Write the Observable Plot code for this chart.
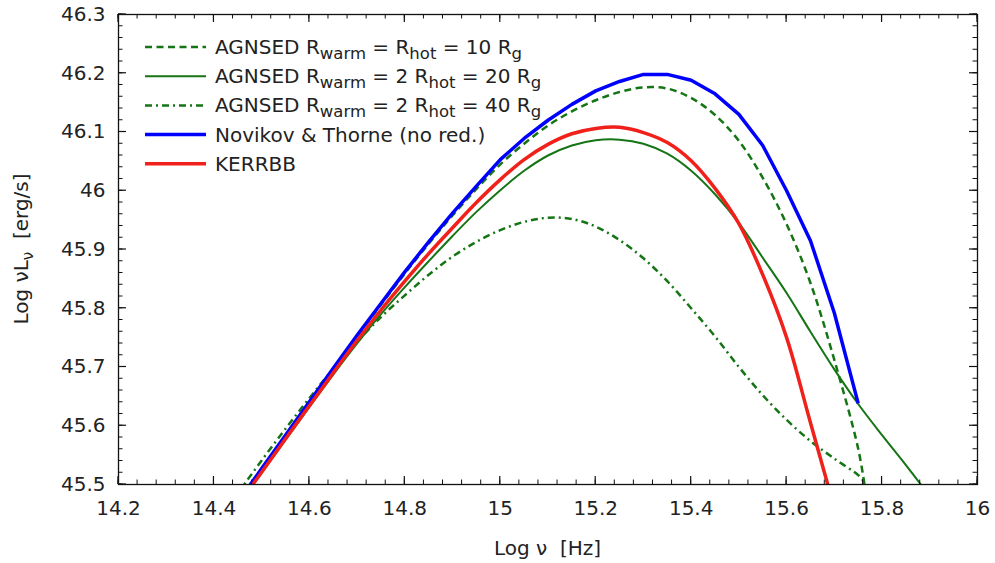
<!DOCTYPE html>
<html><head><meta charset="utf-8">
<script src="https://cdn.jsdelivr.net/npm/d3@7"></script>
<script src="https://cdn.jsdelivr.net/npm/@observablehq/plot@0.6"></script>
<style>
body{margin:0;background:#fff}
svg{font-family:"DejaVu Sans",sans-serif}
</style>
</head><body><div id="chart"></div>
<script>
// ---- data (log nu [Hz], log nuL_nu [erg/s]) ----
const nuNT = [14.45,14.50,14.55,14.60,14.65,14.70,14.75,14.80,14.85,14.90,14.95,15.00,15.05,15.10,15.15,15.20,15.25,15.30,15.35,15.40,15.45,15.50,15.55,15.60,15.65,15.70,15.75];
const lNT  = [45.470,45.527,45.584,45.641,45.698,45.754,45.808,45.862,45.913,45.962,46.008,46.053,46.089,46.120,46.147,46.170,46.186,46.198,46.198,46.188,46.165,46.130,46.077,46.000,45.915,45.792,45.638];

const nuK = [14.45,14.50,14.55,14.60,14.65,14.70,14.75,14.80,14.85,14.90,14.95,15.00,15.05,15.10,15.15,15.20,15.25,15.30,15.35,15.40,15.45,15.50,15.55,15.60,15.65,15.70];
const lK  = [45.465,45.521,45.578,45.634,45.690,45.745,45.797,45.846,45.893,45.937,45.980,46.019,46.053,46.079,46.097,46.106,46.108,46.099,46.082,46.051,46.004,45.944,45.857,45.750,45.605,45.460];

const nuG10 = [14.45,14.50,14.55,14.60,14.65,14.70,14.75,14.80,14.85,14.90,14.95,15.00,15.05,15.10,15.15,15.20,15.25,15.30,15.35,15.40,15.45,15.50,15.55,15.60,15.65,15.70,15.75,15.765];
const lG10  = [45.468,45.525,45.582,45.639,45.696,45.752,45.806,45.859,45.910,45.958,46.003,46.045,46.080,46.111,46.135,46.154,46.168,46.176,46.174,46.158,46.129,46.085,46.022,45.943,45.843,45.712,45.561,45.490];

const nuG20 = [14.45,14.50,14.55,14.60,14.65,14.70,14.75,14.80,14.85,14.90,14.95,15.00,15.05,15.10,15.15,15.20,15.25,15.30,15.35,15.40,15.45,15.50,15.55,15.60,15.65,15.70,15.75,15.80,15.85,15.90];
const lG20  = [45.465,45.520,45.576,45.632,45.687,45.740,45.790,45.836,45.880,45.923,45.964,46.001,46.034,46.060,46.077,46.086,46.087,46.080,46.063,46.034,45.994,45.945,45.886,45.826,45.760,45.696,45.637,45.584,45.533,45.480];

const nuG40 = [14.45,14.50,14.55,14.60,14.65,14.70,14.75,14.80,14.85,14.90,14.95,15.00,15.05,15.10,15.15,15.20,15.25,15.30,15.35,15.40,15.45,15.50,15.55,15.60,15.65,15.70,15.75,15.76];
const lG40  = [45.485,45.541,45.595,45.647,45.697,45.743,45.785,45.822,45.857,45.888,45.913,45.933,45.947,45.954,45.952,45.939,45.916,45.885,45.846,45.800,45.752,45.700,45.652,45.610,45.574,45.544,45.516,45.507];

const xTicks = [14.2,14.4,14.6,14.8,15,15.2,15.4,15.6,15.8,16];
const yTicks = [45.5,45.6,45.7,45.8,45.9,46,46.1,46.2,46.3];

const legendLabels = [
  [["AGNSED R"],["warm",1],[" = R"],["hot",1],[" = 10 R"],["g",1]],
  [["AGNSED R"],["warm",1],[" = 2 R"],["hot",1],[" = 20 R"],["g",1]],
  [["AGNSED R"],["warm",1],[" = 2 R"],["hot",1],[" = 40 R"],["g",1]],
  [["Novikov & Thorne (no red.)"]],
  [["KERRBB"]]
];
const xTitle = "Log \u03bd  [Hz]";

// ---- styles ----
const GREEN = "#157515", BLUE = "#0000ff", RED = "#f0201a";
const styles = [
  {stroke: GREEN, strokeWidth: 2.5, dash: "7,4.5", cap: "butt", curve: "catmull-rom"},
  {stroke: GREEN, strokeWidth: 2, dash: null, cap: "round", curve: "catmull-rom"},
  {stroke: GREEN, strokeWidth: 2.5, dash: "7,4,2,4", cap: "butt", curve: "catmull-rom"},
  {stroke: BLUE, strokeWidth: 3.5, dash: null, cap: "butt", curve: "linear"},
  {stroke: RED, strokeWidth: 3.5, dash: null, cap: "butt", curve: "catmull-rom"}
];
const series = [[nuG10,lG10],[nuG20,lG20],[nuG40,lG40],[nuNT,lNT],[nuK,lK]]
  .map(([n,l]) => n.map((v,i) => ({nu: v, L: l[i]})));

const W = 995, H = 563, mt = 14, mr = 18, mb = 79, ml = 118;
const xMinor = d3.range(0, 46).map(i => 14.2 + i * 0.04);
const yMinor = d3.range(0, 41).map(i => 45.5 + i * 0.02);
const fmt = d => String(Math.round(d * 10) / 10);

const lineMarks = series.map((data, i) => Plot.line(data, {
  x: "nu", y: "L", stroke: styles[i].stroke, strokeWidth: styles[i].strokeWidth,
  strokeDasharray: styles[i].dash, strokeLinecap: styles[i].cap, curve: styles[i].curve, clip: true
}));

const plot = Plot.plot({
  width: W, height: H, marginTop: mt, marginRight: mr, marginBottom: mb, marginLeft: ml,
  x: {domain: [14.2, 16]},
  y: {domain: [45.5, 46.3]},
  style: {fontFamily: "DejaVu Sans, sans-serif", fontSize: "20px", background: "white", color: "#222", overflow: "visible"},
  marks: [
    ...lineMarks,
    Plot.axisX(xTicks, {tickSize: 0, tickPadding: 16, fontSize: 20, tickFormat: fmt, label: null, fill: "#222"}),
    Plot.axisY(yTicks, {tickSize: 0, tickPadding: 13, fontSize: 20, tickFormat: fmt, label: null, fill: "#222"}),
    Plot.frame({stroke: "#111", strokeWidth: 1.3})
  ]
});
document.getElementById("chart").appendChild(plot);

const svg = d3.select(plot);
const xs = plot.scale("x"), ys = plot.scale("y");
const [x0, x1] = [xs.apply(14.2), xs.apply(16)];
const [yB, yT] = [ys.apply(45.5), ys.apply(46.3)];

// ---- inward ticks on all four sides ----
const tg = svg.append("g").attr("stroke", "#111");
function xt(v, len, w) {
  const px = xs.apply(v);
  tg.append("line").attr("x1", px).attr("x2", px).attr("y1", yB).attr("y2", yB - len).attr("stroke-width", w);
  tg.append("line").attr("x1", px).attr("x2", px).attr("y1", yT).attr("y2", yT + len).attr("stroke-width", w);
}
function yt_(v, len, w) {
  const py = ys.apply(v);
  tg.append("line").attr("x1", x0).attr("x2", x0 + len).attr("y1", py).attr("y2", py).attr("stroke-width", w);
  tg.append("line").attr("x1", x1).attr("x2", x1 - len).attr("y1", py).attr("y2", py).attr("stroke-width", w);
}
xMinor.forEach(v => xt(v, 4.5, 1));
xTicks.forEach(v => xt(v, 8, 1.2));
yMinor.forEach(v => yt_(v, 4.5, 1));
yTicks.forEach(v => yt_(v, 8, 1.2));

// ---- legend ----
const lg = svg.append("g").attr("class", "legend");
legendLabels.forEach((parts, i) => {
  const yc = 47 + i * 29.2;
  const s = styles[i];
  lg.append("line").attr("x1", 145).attr("x2", 206).attr("y1", yc).attr("y2", yc)
    .attr("stroke", s.stroke).attr("stroke-width", s.strokeWidth)
    .attr("stroke-dasharray", s.dash).attr("stroke-linecap", "butt");
  const t = lg.append("text").attr("x", 215).attr("y", yc + 7).attr("font-size", 20)
    .attr("text-anchor", "start").attr("fill", "#222").style("white-space", "pre");
  let sub = false;
  parts.forEach(([txt, isSub]) => {
    const ts = t.append("tspan").text(txt);
    if (isSub && !sub) { ts.attr("dy", 5).attr("font-size", 16.5); sub = true; }
    else if (isSub) { ts.attr("font-size", 16.5); }
    else if (sub) { ts.attr("dy", -5); sub = false; }
  });
});

// ---- axis titles ----
svg.append("text").attr("x", (x0 + x1) / 2).attr("y", 555).attr("text-anchor", "middle")
  .attr("font-size", 20).attr("fill", "#222").style("white-space", "pre").text(xTitle);

const yt = svg.append("text").attr("transform", `translate(28,${(yB + yT) / 2}) rotate(-90)`)
  .attr("text-anchor", "middle").attr("font-size", 20).attr("fill", "#222").style("white-space", "pre");
yt.append("tspan").text("Log \u03bdL");
yt.append("tspan").text("\u03bd").attr("font-size", 15).attr("dy", 5);
yt.append("tspan").text("  [erg/s]").attr("dy", -5);
</script>
</body></html>
